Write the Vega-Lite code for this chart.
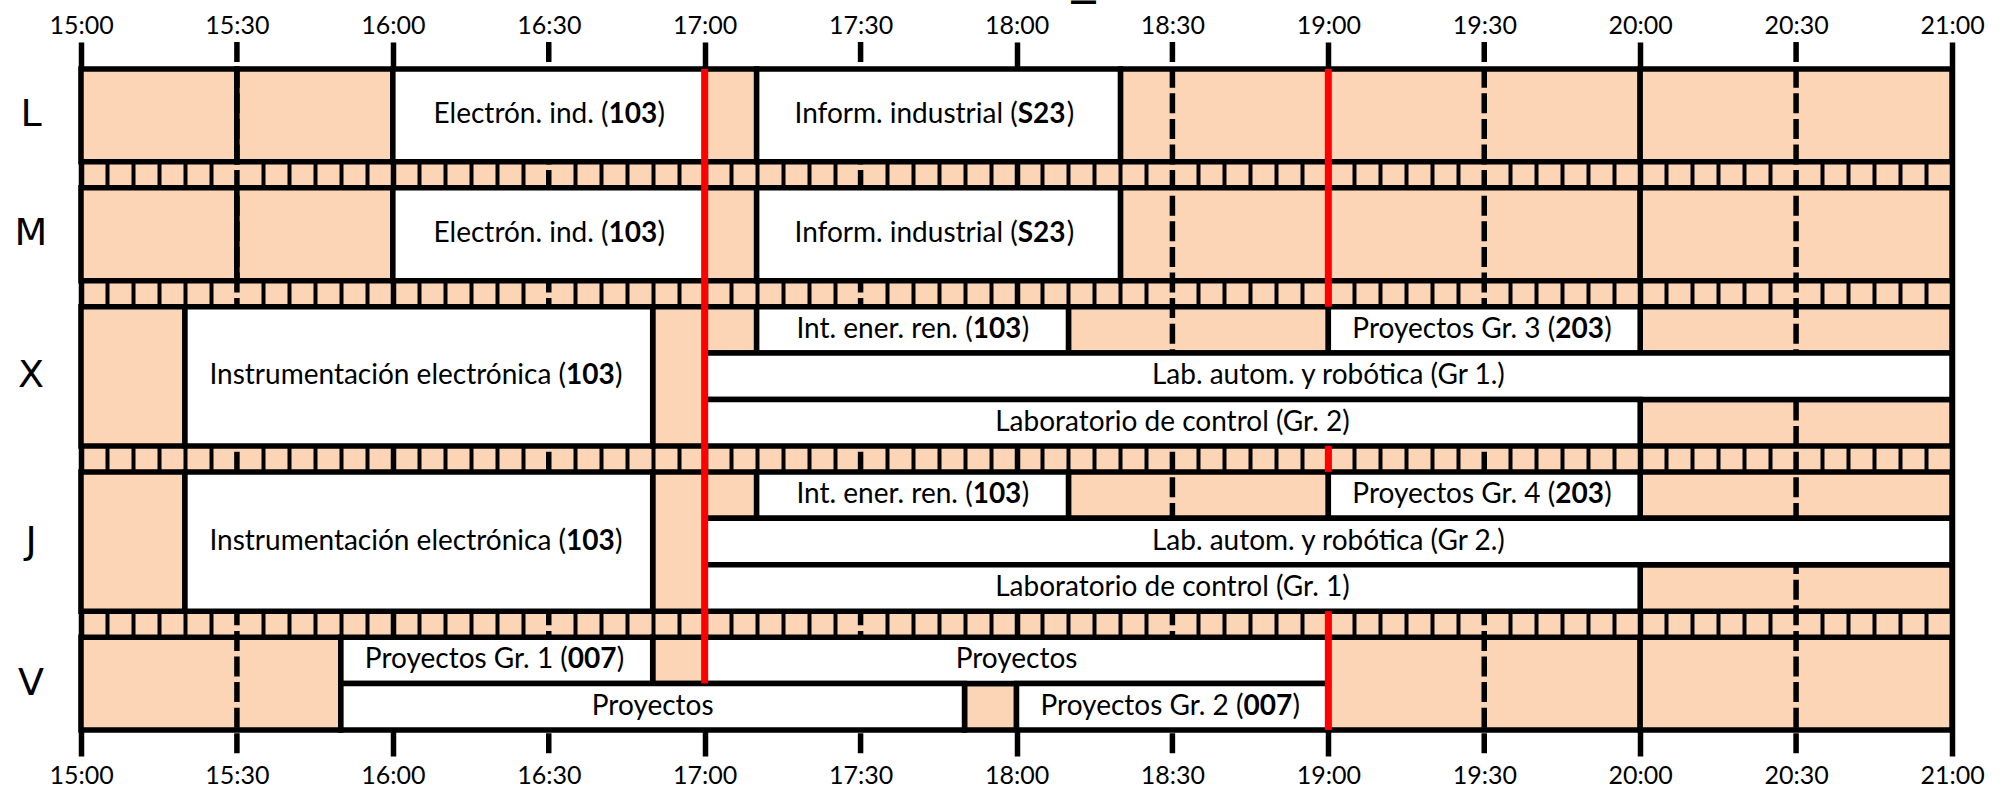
{
  "$schema": "https://vega.github.io/schema/vega-lite/v6.json",
  "width": 1871,
  "height": 661,
  "autosize": {"type": "none"},
  "padding": {"left": 81, "top": 69, "right": 56, "bottom": 61},
  "background": "white",
  "title": {"text": "—", "font": "DejaVu Sans", "fontWeight": "bold", "fontSize": 28, "color": "black", "anchor": "middle", "dx": 67, "dy": 3, "offset": 0},
  "config": {"view": {"stroke": null, "fill": "#FBD5B5"}, "font": "Lato"},
  "datasets": {
    "days": [
      {"day": "L", "start": 0},
      {"day": "M", "start": 2.56},
      {"day": "X", "start": 5.12},
      {"day": "J", "start": 8.68},
      {"day": "V", "start": 12.24}
    ],
    "rows": [
      {"kind": "daylabel", "day": "L", "lane": 0, "span": 2},
      {"kind": "daylabel", "day": "M", "lane": 0, "span": 2},
      {"kind": "daylabel", "day": "X", "lane": 0, "span": 3},
      {"kind": "daylabel", "day": "J", "lane": 0, "span": 3},
      {"kind": "daylabel", "day": "V", "lane": 0, "span": 2},
      {"kind": "free", "day": "L", "lane": 0, "span": 2, "from": "15:00", "to": "15:30"},
      {"kind": "free", "day": "L", "lane": 0, "span": 2, "from": "15:30", "to": "16:00"},
      {"kind": "class", "day": "L", "lane": 0, "span": 2, "from": "16:00", "to": "17:00", "label": "Electrón. ind. (", "room": "103"},
      {"kind": "free", "day": "L", "lane": 0, "span": 2, "from": "17:00", "to": "17:10"},
      {"kind": "class", "day": "L", "lane": 0, "span": 2, "from": "17:10", "to": "18:20", "label": "Inform. industrial (", "room": "S23"},
      {"kind": "free", "day": "L", "lane": 0, "span": 2, "from": "18:20", "to": "20:00"},
      {"kind": "free", "day": "L", "lane": 0, "span": 2, "from": "20:00", "to": "21:00"},
      {"kind": "free", "day": "M", "lane": 0, "span": 2, "from": "15:00", "to": "15:30"},
      {"kind": "free", "day": "M", "lane": 0, "span": 2, "from": "15:30", "to": "16:00"},
      {"kind": "class", "day": "M", "lane": 0, "span": 2, "from": "16:00", "to": "17:00", "label": "Electrón. ind. (", "room": "103"},
      {"kind": "free", "day": "M", "lane": 0, "span": 2, "from": "17:00", "to": "17:10"},
      {"kind": "class", "day": "M", "lane": 0, "span": 2, "from": "17:10", "to": "18:20", "label": "Inform. industrial (", "room": "S23"},
      {"kind": "free", "day": "M", "lane": 0, "span": 2, "from": "18:20", "to": "20:00"},
      {"kind": "free", "day": "M", "lane": 0, "span": 2, "from": "20:00", "to": "21:00"},
      {"kind": "free", "day": "X", "lane": 0, "span": 3, "from": "15:00", "to": "15:20"},
      {"kind": "class", "day": "X", "lane": 0, "span": 3, "from": "15:20", "to": "16:50", "label": "Instrumentación electrónica (", "room": "103"},
      {"kind": "free", "day": "X", "lane": 0, "span": 3, "from": "16:50", "to": "17:00"},
      {"kind": "free", "day": "X", "lane": 0, "span": 1, "from": "17:00", "to": "17:10"},
      {"kind": "class", "day": "X", "lane": 0, "span": 1, "from": "17:10", "to": "18:10", "label": "Int. ener. ren. (", "room": "103"},
      {"kind": "free", "day": "X", "lane": 0, "span": 1, "from": "18:10", "to": "19:00"},
      {"kind": "class", "day": "X", "lane": 0, "span": 1, "from": "19:00", "to": "20:00", "label": "Proyectos Gr. 3 (", "room": "203"},
      {"kind": "free", "day": "X", "lane": 0, "span": 1, "from": "20:00", "to": "21:00"},
      {"kind": "class", "day": "X", "lane": 1, "span": 1, "from": "17:00", "to": "21:00", "label": "Lab. autom. y robótica (Gr 1.)"},
      {"kind": "class", "day": "X", "lane": 2, "span": 1, "from": "17:00", "to": "20:00", "label": "Laboratorio de control (Gr. 2)"},
      {"kind": "free", "day": "X", "lane": 2, "span": 1, "from": "20:00", "to": "21:00"},
      {"kind": "free", "day": "J", "lane": 0, "span": 3, "from": "15:00", "to": "15:20"},
      {"kind": "class", "day": "J", "lane": 0, "span": 3, "from": "15:20", "to": "16:50", "label": "Instrumentación electrónica (", "room": "103"},
      {"kind": "free", "day": "J", "lane": 0, "span": 3, "from": "16:50", "to": "17:00"},
      {"kind": "free", "day": "J", "lane": 0, "span": 1, "from": "17:00", "to": "17:10"},
      {"kind": "class", "day": "J", "lane": 0, "span": 1, "from": "17:10", "to": "18:10", "label": "Int. ener. ren. (", "room": "103"},
      {"kind": "free", "day": "J", "lane": 0, "span": 1, "from": "18:10", "to": "19:00"},
      {"kind": "class", "day": "J", "lane": 0, "span": 1, "from": "19:00", "to": "20:00", "label": "Proyectos Gr. 4 (", "room": "203"},
      {"kind": "free", "day": "J", "lane": 0, "span": 1, "from": "20:00", "to": "21:00"},
      {"kind": "class", "day": "J", "lane": 1, "span": 1, "from": "17:00", "to": "21:00", "label": "Lab. autom. y robótica (Gr 2.)"},
      {"kind": "class", "day": "J", "lane": 2, "span": 1, "from": "17:00", "to": "20:00", "label": "Laboratorio de control (Gr. 1)"},
      {"kind": "free", "day": "J", "lane": 2, "span": 1, "from": "20:00", "to": "21:00"},
      {"kind": "free", "day": "V", "lane": 0, "span": 2, "from": "15:00", "to": "15:50"},
      {"kind": "class", "day": "V", "lane": 0, "span": 1, "from": "15:50", "to": "16:50", "label": "Proyectos Gr. 1 (", "room": "007"},
      {"kind": "free", "day": "V", "lane": 0, "span": 1, "from": "16:50", "to": "17:00"},
      {"kind": "class", "day": "V", "lane": 0, "span": 1, "from": "17:00", "to": "19:00", "label": "Proyectos"},
      {"kind": "class", "day": "V", "lane": 1, "span": 1, "from": "15:50", "to": "17:50", "label": "Proyectos"},
      {"kind": "free", "day": "V", "lane": 1, "span": 1, "from": "17:50", "to": "18:00"},
      {"kind": "class", "day": "V", "lane": 1, "span": 1, "from": "18:00", "to": "19:00", "label": "Proyectos Gr. 2 (", "room": "007"},
      {"kind": "free", "day": "V", "lane": 0, "span": 2, "from": "19:00", "to": "20:00"},
      {"kind": "free", "day": "V", "lane": 0, "span": 2, "from": "20:00", "to": "21:00"},
      {"kind": "half", "from": "15:30"},
      {"kind": "half", "from": "16:30"},
      {"kind": "half", "from": "17:30"},
      {"kind": "half", "from": "18:30"},
      {"kind": "half", "from": "19:30"},
      {"kind": "half", "from": "20:30"},
      {"kind": "red", "from": "17:00", "day": "L", "lane": 0, "day2": "V", "lane2": 1},
      {"kind": "red", "from": "19:00", "day": "L", "lane": 0, "day2": "X", "lane2": 0},
      {"kind": "red", "from": "19:00", "day": "X", "lane": 3, "day2": "J", "lane2": 0},
      {"kind": "red", "from": "19:00", "day": "J", "lane": 3, "day2": "V", "lane2": 2}
    ]
  },
  "data": {"name": "rows"},
  "transform": [
    {"lookup": "day", "from": {"data": {"name": "days"}, "key": "day", "fields": ["start"]}, "as": ["s1"]},
    {"lookup": "day2", "from": {"data": {"name": "days"}, "key": "day", "fields": ["start"]}, "as": ["s2"]},
    {"calculate": "datum.from ? toNumber(substring(datum.from,0,2))*60 + toNumber(substring(datum.from,3,5)) : 900", "as": "t0"},
    {"calculate": "datum.to ? toNumber(substring(datum.to,0,2))*60 + toNumber(substring(datum.to,3,5)) : null", "as": "t1"},
    {"calculate": "datum.s1 + datum.lane", "as": "y0"},
    {"calculate": "datum.kind == 'red' ? datum.s2 + datum.lane2 : datum.y0 + datum.span", "as": "y1"},
    {"calculate": "(datum.t0 + datum.t1) / 2", "as": "tm"},
    {"calculate": "(datum.y0 + datum.y1) / 2", "as": "ym"}
  ],
  "layer": [
    {
      "transform": [{"filter": "datum.kind == 'free'"}],
      "mark": {"type": "rect", "fill": "#FBD5B5", "stroke": "black", "strokeWidth": 5.5},
      "encoding": {
        "x": {
          "field": "t0", "type": "quantitative",
          "scale": {"domain": [900, 1260], "nice": false, "zero": false},
          "axis": {
            "orient": "top", "title": null, "domain": false,
            "values": [900,905,910,915,920,925,930,935,940,945,950,955,960,965,970,975,980,985,990,995,1000,1005,1010,1015,1020,1025,1030,1035,1040,1045,1050,1055,1060,1065,1070,1075,1080,1085,1090,1095,1100,1105,1110,1115,1120,1125,1130,1135,1140,1145,1150,1155,1160,1165,1170,1175,1180,1185,1190,1195,1200,1205,1210,1215,1220,1225,1230,1235,1240,1245,1250,1255,1260],
            "labelExpr": "datum.value % 30 == 0 ? (floor(datum.value/60) + ':' + (datum.value % 60 == 0 ? '00' : '30')) : ''",
            "labelFont": "Lato", "labelFontSize": 25, "labelColor": "black", "labelPadding": 4,
            "labelFlush": false, "labelOverlap": false,
            "ticks": true, "tickSize": 27, "tickColor": "black", "tickWidth": 5.5,
            "tickOpacity": {"condition": {"test": "datum.value % 60 == 0", "value": 1}, "value": 0},
            "grid": true, "gridColor": "black",
            "gridWidth": {"condition": {"test": "datum.value % 60 == 0", "value": 5.5}, "value": 4},
            "gridOpacity": {"condition": {"test": "datum.value % 60 == 30", "value": 0}, "value": 1}
          }
        },
        "x2": {"field": "t1"},
        "y": {
          "field": "y0", "type": "quantitative",
          "scale": {"domain": [0, 14.24], "nice": false, "zero": false, "reverse": true},
          "axis": null
        },
        "y2": {"field": "y1"}
      }
    },
    {
      "transform": [{"filter": "datum.kind == 'half'"}],
      "mark": {"type": "rule", "color": "black", "strokeWidth": 5.5, "strokeDash": [20, 5.6]},
      "encoding": {
        "x": {
          "field": "t0", "type": "quantitative",
          "axis": {
            "orient": "bottom", "title": null, "domain": false, "grid": false,
            "values": [900,930,960,990,1020,1050,1080,1110,1140,1170,1200,1230,1260],
            "labelExpr": "floor(datum.value/60) + ':' + (datum.value % 60 == 0 ? '00' : '30')",
            "labelFont": "Lato", "labelFontSize": 25, "labelColor": "black", "labelPadding": 7,
            "labelFlush": false, "labelOverlap": false,
            "ticks": true, "tickSize": 26, "tickColor": "black", "tickWidth": 5.5,
            "tickOpacity": {"condition": {"test": "datum.value % 60 == 0", "value": 1}, "value": 0}
          }
        },
        "y": {"datum": -0.58, "type": "quantitative", "axis": null},
        "y2": {"datum": 14.79}
      }
    },
    {
      "transform": [{"filter": "datum.kind == 'class'"}],
      "mark": {"type": "rect", "fill": "white", "stroke": "black", "strokeWidth": 5.5},
      "encoding": {
        "x": {"field": "t0", "type": "quantitative", "axis": null},
        "x2": {"field": "t1"},
        "y": {"field": "y0", "type": "quantitative", "axis": null},
        "y2": {"field": "y1"}
      }
    },
    {
      "transform": [{"filter": "datum.kind == 'red'"}],
      "mark": {"type": "rule", "color": "#FF0000", "strokeWidth": 7, "strokeCap": "butt"},
      "encoding": {
        "x": {"field": "t0", "type": "quantitative", "axis": null},
        "y": {"field": "y0", "type": "quantitative", "axis": null},
        "y2": {"field": "y1"}
      }
    },
    {
      "transform": [{"filter": "datum.kind == 'daylabel'"}],
      "mark": {"type": "text", "font": "DejaVu Sans", "fontSize": 38, "color": "black", "align": "center", "baseline": "middle", "dx": -50},
      "encoding": {
        "x": {"field": "t0", "type": "quantitative", "axis": null},
        "y": {"field": "ym", "type": "quantitative", "axis": null},
        "text": {"field": "day"}
      }
    },
    {
      "transform": [{"filter": "datum.kind == 'class' && !datum.room"}],
      "mark": {"type": "text", "font": "Lato", "fontSize": 28, "color": "black", "align": "center", "baseline": "middle"},
      "encoding": {
        "x": {"field": "tm", "type": "quantitative", "axis": null},
        "y": {"field": "ym", "type": "quantitative", "axis": null},
        "text": {"field": "label"}
      }
    },
    {
      "transform": [
        {"filter": "datum.kind == 'class' && datum.room"},
        {"calculate": "length(datum.label) - length(replace(datum.label, regexp('[Iiltrfj.,() ]', 'g'), ''))", "as": "nn"},
        {"calculate": "datum.tm + (28*(0.54*(length(datum.label) - datum.nn) + 0.28*datum.nn) - 56.8) / 2 * 360 / 1871", "as": "anchor"}
      ],
      "layer": [
        {
          "mark": {"type": "text", "font": "Lato", "fontSize": 28, "color": "black", "align": "right", "baseline": "middle"},
          "encoding": {
            "x": {"field": "anchor", "type": "quantitative", "axis": null},
            "y": {"field": "ym", "type": "quantitative", "axis": null},
            "text": {"field": "label"}
          }
        },
        {
          "mark": {"type": "text", "font": "Lato", "fontSize": 28, "fontWeight": "bold", "color": "black", "align": "left", "baseline": "middle"},
          "encoding": {
            "x": {"field": "anchor", "type": "quantitative", "axis": null},
            "y": {"field": "ym", "type": "quantitative", "axis": null},
            "text": {"field": "room"}
          }
        },
        {
          "mark": {"type": "text", "font": "Lato", "fontSize": 28, "color": "black", "align": "left", "baseline": "middle", "dx": 49, "text": ")"},
          "encoding": {
            "x": {"field": "anchor", "type": "quantitative", "axis": null},
            "y": {"field": "ym", "type": "quantitative", "axis": null}
          }
        }
      ]
    }
  ]
}
